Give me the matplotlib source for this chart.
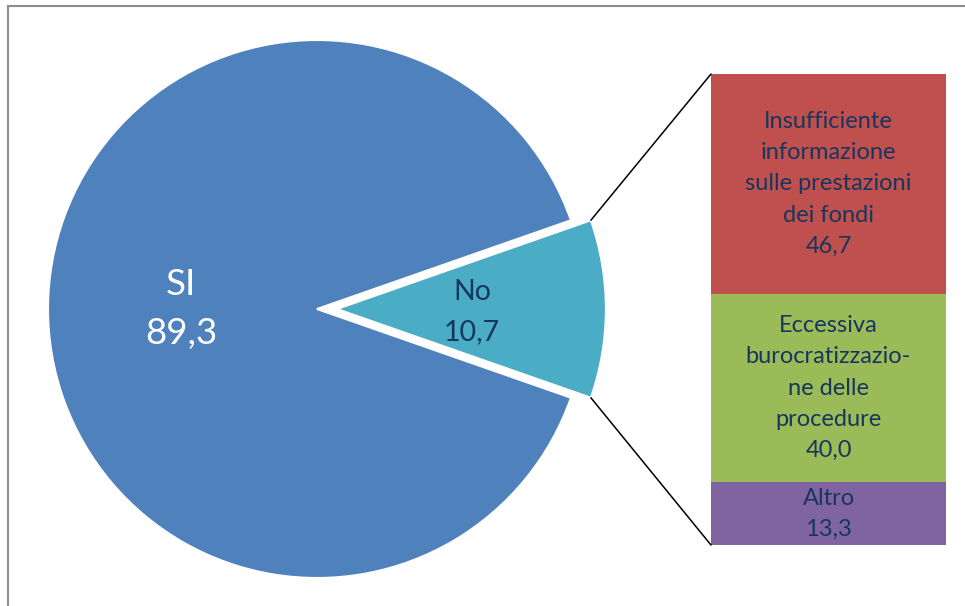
import matplotlib
matplotlib.use("Agg")
import matplotlib.pyplot as plt
from matplotlib.lines import Line2D
from matplotlib.patches import ConnectionPatch
import numpy as np

# main pie
pie_labels = ["No", "SI"]
pie_values = [10.7, 89.3]
pie_colors = ["#4BACC6", "#4F81BD"]

# breakdown of "No" (top to bottom)
bar_labels = ["Insufficiente\ninformazione\nsulle prestazioni\ndei fondi",
              "Eccessiva\nburocratizzazio-\nne delle\nprocedure",
              "Altro"]
bar_values = [46.7, 40.0, 13.3]
bar_colors = ["#C0504D", "#9BBB59", "#8064A2"]

TEXT_DARK = "#17365D"
FONT = ["Lato", "DejaVu Sans"]

W, H = 965, 606
fig = plt.figure(figsize=(W / 100, H / 100), dpi=100)

# pie axes: center (317, 309) px, radius 269 px
cx, cy, r = 317, 309, 269
ax_pie = fig.add_axes([(cx - r) / W, (H - cy - r) / H, 2 * r / W, 2 * r / H])

explode_no = 0.074
half = pie_values[0] / 100 * 360 / 2
wedges, _ = ax_pie.pie(pie_values, colors=pie_colors, startangle=-half,
                       explode=[explode_no, 0], radius=1, counterclock=True,
                       wedgeprops=dict(edgecolor="white", linewidth=1.5))
for w in wedges:
    w.set_clip_on(False)
ax_pie.set_aspect("auto")
ax_pie.set_xlim(-1, 1)
ax_pie.set_ylim(-1, 1)
ax_pie.axis("off")

fmt = lambda v: f"{v:.1f}".replace(".", ",")
ax_pie.text(-0.506, 0.0, f"{pie_labels[1]}\n{fmt(pie_values[1])}", ha="center", va="center",
            color="white", fontsize=26.5, family=FONT, linespacing=1.6)
ax_pie.text(0.576, -0.01, f"{pie_labels[0]}\n{fmt(pie_values[0])}", ha="center", va="center",
            color=TEXT_DARK, fontsize=20.5, family=FONT, linespacing=1.68)

# stacked bar axes
bl, br, bt, bb = 711, 946, 74, 545
ax_bar = fig.add_axes([bl / W, (H - bb) / H, (br - bl) / W, (bb - bt) / H])
ax_bar.set_xlim(-0.5, 0.5)
ax_bar.set_ylim(0, sum(bar_values))
ax_bar.axis("off")

bottom = sum(bar_values)
for lab, val, col in zip(bar_labels, bar_values, bar_colors):
    bottom -= val
    ax_bar.bar(0, val, bottom=bottom, width=1, color=col, edgecolor="none")
    ax_bar.text(0, bottom + val / 2, f"{lab}\n{fmt(val)}", ha="center", va="center",
                color=TEXT_DARK, fontsize=17, family=FONT, linespacing=1.6)

# connector lines from the "No" wedge corners to the bar
a = np.deg2rad(half)
for sign, ybar in [(1, sum(bar_values)), (-1, 0)]:
    corner = (explode_no + np.cos(a), sign * np.sin(a))
    con = ConnectionPatch(xyA=corner, coordsA=ax_pie.transData,
                          xyB=(-0.5, ybar), coordsB=ax_bar.transData,
                          color="black", linewidth=1.1)
    fig.add_artist(con)

# chart frame (only left and top visible)
fig.add_artist(Line2D([8.3 / W, 8.3 / W], [0, 1 - 5.7 / H], transform=fig.transFigure,
                      color="#8C8C8C", linewidth=1.5))
fig.add_artist(Line2D([8.3 / W, 1], [1 - 5.7 / H, 1 - 5.7 / H], transform=fig.transFigure,
                      color="#8C8C8C", linewidth=1.5))

fig.savefig("out.png", dpi=100)
